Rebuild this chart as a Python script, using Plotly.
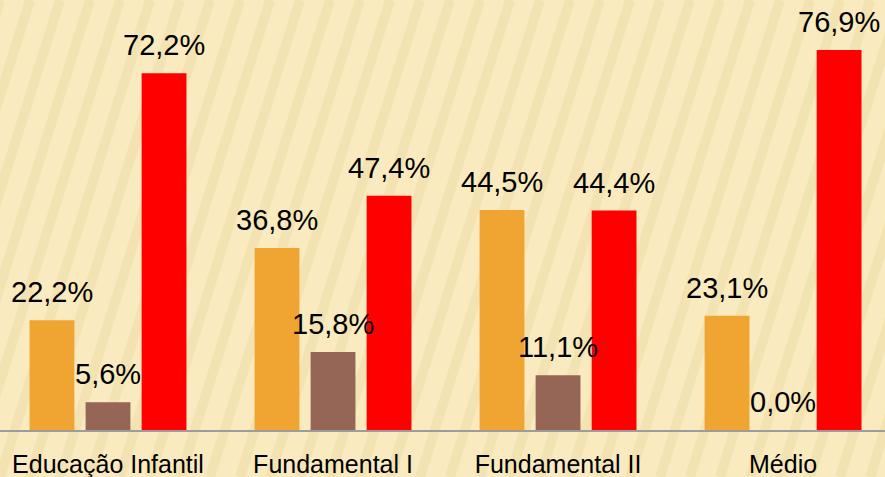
import plotly.graph_objects as go

categories = ["Educação Infantil", "Fundamental I", "Fundamental II", "Médio"]
serie_a = [22.2, 36.8, 44.5, 23.1]
serie_b = [5.6, 15.8, 11.1, 0.0]
serie_c = [72.2, 47.4, 44.4, 76.9]
colors = ["#F0A432", "#956556", "#FF0000"]

def fmt(v):
    return f"{v:.1f}".replace(".", ",") + "%"

fig = go.Figure()
annotations = []
for idx, (vals, col) in enumerate(zip([serie_a, serie_b, serie_c], colors)):
    fig.add_trace(go.Bar(
        x=categories, y=vals, marker_color=col, marker_line_width=0,
        showlegend=False, hoverinfo="skip",
    ))
    for cat, v in zip(categories, vals):
        annotations.append(dict(
            x=cat, y=v, xref="x", yref="y", text=fmt(v), showarrow=False,
            xanchor="center", yanchor="bottom", xshift=(idx - 1) * 56, yshift=10,
            font=dict(family="Liberation Sans", size=29, color="#000000"),
        ))

# decorative striped background
W, H, PH = 885, 477, 430
shapes = []
for k in range(-8, 32):
    x0 = k * 30
    shapes.append(dict(
        type="line", xref="paper", yref="paper",
        x0=x0 / W, y0=(PH - H) / PH, x1=(x0 + 150) / W, y1=1.0,
        line=dict(color="rgba(226,200,130,0.22)", width=10), layer="below",
    ))

fig.update_layout(
    width=W, height=H,
    margin=dict(l=0, r=0, t=0, b=H - PH),
    paper_bgcolor="#F9EBBF", plot_bgcolor="rgba(0,0,0,0)",
    barmode="group", bargap=0.253, bargroupgap=0.2,
    shapes=shapes, annotations=annotations,
    xaxis=dict(
        range=[-0.48, 3.453], showline=True, linecolor="#9C9C9C", linewidth=1.5,
        ticks="outside", ticklen=11, tickcolor="rgba(0,0,0,0)",
        tickfont=dict(family="Liberation Sans", size=25, color="#000000"),
        showgrid=False, zeroline=False, type="category", automargin=False,
    ),
    yaxis=dict(range=[0, 87], visible=False, showgrid=False, zeroline=False),
)

fig.write_html(
    "out.html",
    config={"displayModeBar": False},
    post_script="document.body.style.margin='0';document.body.style.overflow='hidden';",
)
